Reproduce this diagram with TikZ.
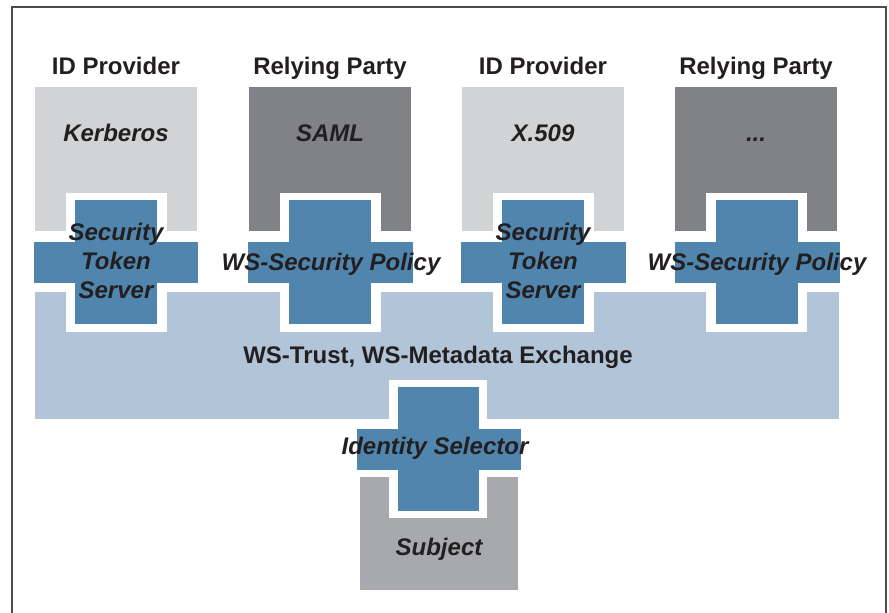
\documentclass[tikz,border=0pt]{standalone}
\usepackage{fontspec}
\setmainfont{Liberation Sans}
\usepackage{xcolor}
\usepackage{tikz}
\definecolor{idgray}{HTML}{D1D3D4}
\definecolor{rpgray}{HTML}{808285}
\definecolor{crossblue}{HTML}{5085AE}
\definecolor{bandblue}{HTML}{B1C4D8}
\definecolor{subjgray}{HTML}{A7A9AC}
\definecolor{ink}{HTML}{231F20}

\begin{document}
\begin{tikzpicture}[x=0.5pt,y=-0.5pt,
  lab/.style={font=\fontsize{12}{14.5}\selectfont\bfseries,text=ink,inner sep=0pt,align=center,anchor=base},
  ilab/.style={lab,font=\fontsize{12}{14.5}\selectfont\bfseries\itshape},
  halo/.style={fill=white},
  bar/.style={fill=crossblue}]
\useasboundingbox (0,0) rectangle (889,613);
% outer frame (open at the bottom)
\draw[black!70,line width=0.8pt] (12,613) -- (12,7) -- (886,7) -- (886,613);
% token blocks
\fill[idgray] (35,87) rectangle (197,231);
\fill[rpgray] (249,87) rectangle (411,231);
\fill[idgray] (462,87) rectangle (624,231);
\fill[rpgray] (675,87) rectangle (837,231);
% protocol band and subject
\fill[bandblue] (35,292) rectangle (839,419);
\fill[subjgray] (360,477) rectangle (518,590);
% white halos round the vertical bars
\fill[halo] (66,193) rectangle (167,332);
\fill[halo] (280,193) rectangle (381,332);
\fill[halo] (493,193) rectangle (594,332);
\fill[halo] (706,193) rectangle (807,332);
\fill[halo] (389,380) rectangle (487,518);
% crosses
\fill[bar] (75,200) rectangle (157,324);
\fill[bar] (34,242) rectangle (198,283);
\fill[bar] (289,200) rectangle (371,324);
\fill[bar] (248,242) rectangle (413,283);
\fill[bar] (502,200) rectangle (584,324);
\fill[bar] (461,242) rectangle (626,283);
\fill[bar] (716,200) rectangle (798,324);
\fill[bar] (675,242) rectangle (840,283);
\fill[bar] (398,387) rectangle (479,511);
\fill[bar] (357,429) rectangle (521,470);
% column titles
\node[lab] (idp1) at (116,75) {ID Provider};
\node[lab] (rp1) at (330,75) {Relying Party};
\node[lab] (idp2) at (543,75) {ID Provider};
\node[lab] (rp2) at (756,75) {Relying Party};
% token types
\node[ilab] (kerb) at (116,142) {Kerberos};
\node[ilab] (saml) at (330,142) {SAML};
\node[ilab] (x509) at (543,142) {X.509};
\node[ilab] (more) at (756,142) {...};
% cross labels
\node[ilab] (sts1) at (116,299) {Security\\Token\\Server};
\node[ilab] (wsp1) at (331,271) {WS-Security Policy};
\node[ilab] (sts2) at (543,299) {Security\\Token\\Server};
\node[ilab] (wsp2) at (757,271) {WS-Security Policy};
\node[lab] (trust) at (438,364) {WS-Trust, WS-Metadata Exchange};
\node[ilab] (idsel) at (435,455) {Identity Selector};
\node[ilab] (subj) at (439,556) {Subject};
\end{tikzpicture}
\end{document}
